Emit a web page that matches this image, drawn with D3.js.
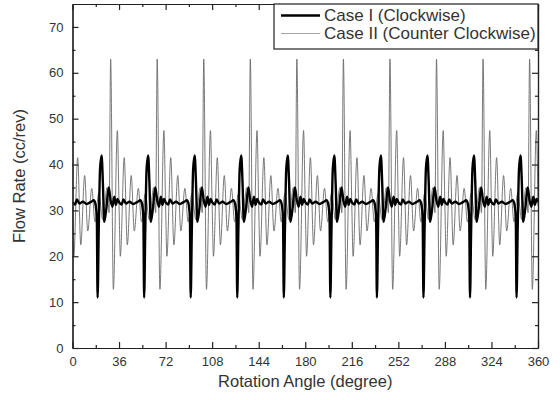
<!DOCTYPE html>
<html>
<head>
<meta charset="utf-8">
<title>Flow Rate vs Rotation Angle</title>
<script src="https://cdn.jsdelivr.net/npm/d3@7"></script>
<style>
    body { margin: 0; background: #fff; }
    #chart-area { width: 560px; height: 400px; }
    .axis text { font-family: "Liberation Sans", Arial, sans-serif; font-size: 13px; fill: #333; }
    .axis path, .axis line { stroke: #222; stroke-width: 1.2; }
    .axis-title { font-family: "Liberation Sans", Arial, sans-serif; font-size: 16.5px; fill: #333; }
    .legend-label { font-family: "Liberation Sans", Arial, sans-serif; font-size: 17px; fill: #333; }
</style>
</head>
<body>
<div id="chart-area"></div>
<script>

// Axis ticks
const xTicks = [0, 36, 72, 108, 144, 180, 216, 252, 288, 324, 360];
const xMinorTicks = [18, 54, 90, 126, 162, 198, 234, 270, 306, 342];
const yTicks = [0, 10, 20, 30, 40, 50, 60, 70];
const yMinorTicks = [5, 15, 25, 35, 45, 55, 65];

// One row per 36 degree cycle, starting at these angles
const cycleStart = [0, 36, 72, 108, 144, 180, 216, 252, 288, 324];

// Case I (Clockwise): angle inside the cycle and flow rate (cc/rev)
const caseIPhase = [0, 2.0, 3.4, 5.4, 8.0, 11.0, 14.0, 16.6, 18.0, 18.8, 19.4, 20.3, 21.3, 22.5, 23.5, 24.5, 26.2, 28.0, 29.6, 30.9, 32.3, 33.6, 34.8];
const caseIFlow = [
    [31.8, 31.3, 32.4, 31.5, 31.9, 31.4, 31.8, 32.2, 31.0, 28.5, 11, 26, 39, 42, 36, 27.5, 30.5, 35, 32, 30.8, 33, 31.2, 32.5],
    [31.8, 31.3, 32.4, 31.5, 31.9, 31.4, 31.8, 32.2, 31.0, 28.5, 11, 26, 39, 42, 36, 27.5, 30.5, 35, 32, 30.8, 33, 31.2, 32.5],
    [31.8, 31.3, 32.4, 31.5, 31.9, 31.4, 31.8, 32.2, 31.0, 28.5, 11, 26, 39, 42, 36, 27.5, 30.5, 35, 32, 30.8, 33, 31.2, 32.5],
    [31.8, 31.3, 32.4, 31.5, 31.9, 31.4, 31.8, 32.2, 31.0, 28.5, 11, 26, 39, 42, 36, 27.5, 30.5, 35, 32, 30.8, 33, 31.2, 32.5],
    [31.8, 31.3, 32.4, 31.5, 31.9, 31.4, 31.8, 32.2, 31.0, 28.5, 11, 26, 39, 42, 36, 27.5, 30.5, 35, 32, 30.8, 33, 31.2, 32.5],
    [31.8, 31.3, 32.4, 31.5, 31.9, 31.4, 31.8, 32.2, 31.0, 28.5, 11, 26, 39, 42, 36, 27.5, 30.5, 35, 32, 30.8, 33, 31.2, 32.5],
    [31.8, 31.3, 32.4, 31.5, 31.9, 31.4, 31.8, 32.2, 31.0, 28.5, 11, 26, 39, 42, 36, 27.5, 30.5, 35, 32, 30.8, 33, 31.2, 32.5],
    [31.8, 31.3, 32.4, 31.5, 31.9, 31.4, 31.8, 32.2, 31.0, 28.5, 11, 26, 39, 42, 36, 27.5, 30.5, 35, 32, 30.8, 33, 31.2, 32.5],
    [31.8, 31.3, 32.4, 31.5, 31.9, 31.4, 31.8, 32.2, 31.0, 28.5, 11, 26, 39, 42, 36, 27.5, 30.5, 35, 32, 30.8, 33, 31.2, 32.5],
    [31.8, 31.3, 32.4, 31.5, 31.9, 31.4, 31.8, 32.2, 31.0, 28.5, 11, 26, 39, 42, 36, 27.5, 30.5, 35, 32, 30.8, 33, 31.2, 32.5]
];
const caseIEnd = 31.8;

// Case II (Counter Clockwise)
const caseIIPhase = [0, 1.0, 4.0, 6.4, 9.4, 11.8, 14.9, 17.4, 20.3, 23.4, 26.8, 28.3, 29.5, 31.6, 34.7];
const caseIIFlow = [
    [31, 20, 41.5, 22.5, 37.6, 25.5, 34.8, 27.5, 33.7, 28, 35, 29.5, 63, 12.8, 47.4],
    [31, 20, 41.5, 22.5, 37.6, 25.5, 34.8, 27.5, 33.7, 28, 35, 29.5, 63, 12.8, 47.4],
    [31, 20, 41.5, 22.5, 37.6, 25.5, 34.8, 27.5, 33.7, 28, 35, 29.5, 63, 12.8, 47.4],
    [31, 20, 41.5, 22.5, 37.6, 25.5, 34.8, 27.5, 33.7, 28, 35, 29.5, 63, 12.8, 47.4],
    [31, 20, 41.5, 22.5, 37.6, 25.5, 34.8, 27.5, 33.7, 28, 35, 29.5, 63, 12.8, 47.4],
    [31, 20, 41.5, 22.5, 37.6, 25.5, 34.8, 27.5, 33.7, 28, 35, 29.5, 63, 12.8, 47.4],
    [31, 20, 41.5, 22.5, 37.6, 25.5, 34.8, 27.5, 33.7, 28, 35, 29.5, 63, 12.8, 47.4],
    [31, 20, 41.5, 22.5, 37.6, 25.5, 34.8, 27.5, 33.7, 28, 35, 29.5, 63, 12.8, 47.4],
    [31, 20, 41.5, 22.5, 37.6, 25.5, 34.8, 27.5, 33.7, 28, 35, 29.5, 63, 12.8, 47.4],
    [31, 20, 41.5, 22.5, 37.6, 25.5, 34.8, 27.5, 33.7, 28, 35, 29.5, 63, 12.8, 47.4]
];
const caseIIEnd = 31;

const seriesNames = ["Case I (Clockwise)", "Case II (Counter Clockwise)"];


class FlowRateChart {

    constructor(parentElement, data) {
        this.parentElement = parentElement;
        this.data = data;

        this.initVis();
    }

    initVis() {
        let vis = this;

        vis.margin = {top: 4, right: 22, bottom: 52, left: 72.5};
        vis.width = document.getElementById(vis.parentElement).getBoundingClientRect().width - vis.margin.left - vis.margin.right;
        vis.height = document.getElementById(vis.parentElement).getBoundingClientRect().height - vis.margin.top - vis.margin.bottom;

        // Drawing area
        vis.svg = d3.select("#" + vis.parentElement).append("svg")
            .attr("width", vis.width + vis.margin.left + vis.margin.right)
            .attr("height", vis.height + vis.margin.top + vis.margin.bottom)
            .append("g")
            .attr("transform", `translate (${vis.margin.left}, ${vis.margin.top})`);

        vis.svg.append("clipPath")
            .attr("id", "plot-clip")
            .append("rect")
            .attr("width", vis.width)
            .attr("height", vis.height);

        // Scales
        vis.x = d3.scaleLinear()
            .domain([0, 360])
            .range([0, vis.width]);
        vis.y = d3.scaleLinear()
            .domain([0, 75])
            .range([vis.height, 0]);

        vis.line = d3.line()
            .x((d) => vis.x(d.angle))
            .y((d) => vis.y(d.flow))
            .curve(d3.curveMonotoneX);

        vis.wrangleData();
    }

    wrangleData() {
        let vis = this;

        // Flatten cycle rows into angle / flow points
        vis.series = vis.data.map((s) => {
            let points = [];
            s.rows.forEach((row, k) => {
                row.forEach((v, i) => points.push({angle: cycleStart[k] + s.phase[i], flow: v}));
            });
            points.push({angle: 360, flow: s.end});
            return {name: s.name, color: s.color, legendColor: s.legendColor, width: s.width, points: points};
        });

        vis.updateVis();
    }

    updateVis() {
        let vis = this;

        // Lines (Case II underneath)
        vis.svg.append("g")
            .attr("clip-path", "url(#plot-clip)")
            .selectAll("path")
            .data(vis.series.slice().reverse())
            .enter()
            .append("path")
            .attr("d", (d) => vis.line(d.points))
            .attr("fill", "none")
            .attr("stroke", (d) => d.color)
            .attr("stroke-width", (d) => d.width)
            .attr("stroke-linejoin", "round");

        // Axes, ticks pointing inward on all four sides
        vis.addAxis(d3.axisBottom(vis.x).tickValues(xTicks).tickSize(-6).tickPadding(9), `translate(0, ${vis.height})`);
        vis.addAxis(d3.axisBottom(vis.x).tickValues(xMinorTicks).tickSize(-3).tickFormat(""), `translate(0, ${vis.height})`);
        vis.addAxis(d3.axisTop(vis.x).tickValues(xTicks).tickSize(-6).tickFormat(""), "translate(0, 0)");
        vis.addAxis(d3.axisTop(vis.x).tickValues(xMinorTicks).tickSize(-3).tickFormat(""), "translate(0, 0)");
        vis.addAxis(d3.axisLeft(vis.y).tickValues(yTicks).tickSize(-6).tickPadding(9), "translate(0, 0)");
        vis.addAxis(d3.axisLeft(vis.y).tickValues(yMinorTicks).tickSize(-3).tickFormat(""), "translate(0, 0)");
        vis.addAxis(d3.axisRight(vis.y).tickValues(yTicks).tickSize(-6).tickFormat(""), `translate(${vis.width}, 0)`);
        vis.addAxis(d3.axisRight(vis.y).tickValues(yMinorTicks).tickSize(-3).tickFormat(""), `translate(${vis.width}, 0)`);

        // Axis titles
        vis.svg.append("text")
            .attr("class", "axis-title")
            .attr("x", vis.width / 2)
            .attr("y", vis.height + 39)
            .attr("text-anchor", "middle")
            .text("Rotation Angle (degree)");

        vis.svg.append("text")
            .attr("class", "axis-title")
            .attr("transform", `translate(-48, ${vis.height / 2}) rotate(-90)`)
            .attr("text-anchor", "middle")
            .text("Flow Rate (cc/rev)");

        vis.drawLegend();
    }

    addAxis(axis, transform) {
        let vis = this;

        vis.svg.append("g")
            .attr("class", "axis")
            .attr("transform", transform)
            .call(axis.tickSizeOuter(0));
    }

    drawLegend() {
        let vis = this;

        let legend = vis.svg.append("g")
            .attr("transform", `translate(${vis.width - 264}, 0)`);

        legend.append("rect")
            .attr("width", 264)
            .attr("height", 45)
            .attr("fill", "#fff")
            .attr("stroke", "#222")
            .attr("stroke-width", 1.2);

        let items = legend.selectAll(".legend-item")
            .data(vis.series)
            .enter()
            .append("g")
            .attr("class", "legend-item")
            .attr("transform", (d, i) => `translate(0, ${11.5 + i * 18})`);

        items.append("line")
            .attr("x1", 7)
            .attr("x2", 46)
            .attr("stroke", (d) => d.legendColor)
            .attr("stroke-width", (d) => d.width);

        items.append("text")
            .attr("class", "legend-label")
            .attr("x", 50)
            .attr("dy", "0.35em")
            .text((d) => d.name);
    }
}

let flowChart = new FlowRateChart("chart-area", [
    {name: seriesNames[0], phase: caseIPhase, rows: caseIFlow, end: caseIEnd, color: "#000", legendColor: "#000", width: 2.4},
    {name: seriesNames[1], phase: caseIIPhase, rows: caseIIFlow, end: caseIIEnd, color: "#6a6a6a", legendColor: "#999", width: 0.9}
]);

</script>
</body>
</html>
